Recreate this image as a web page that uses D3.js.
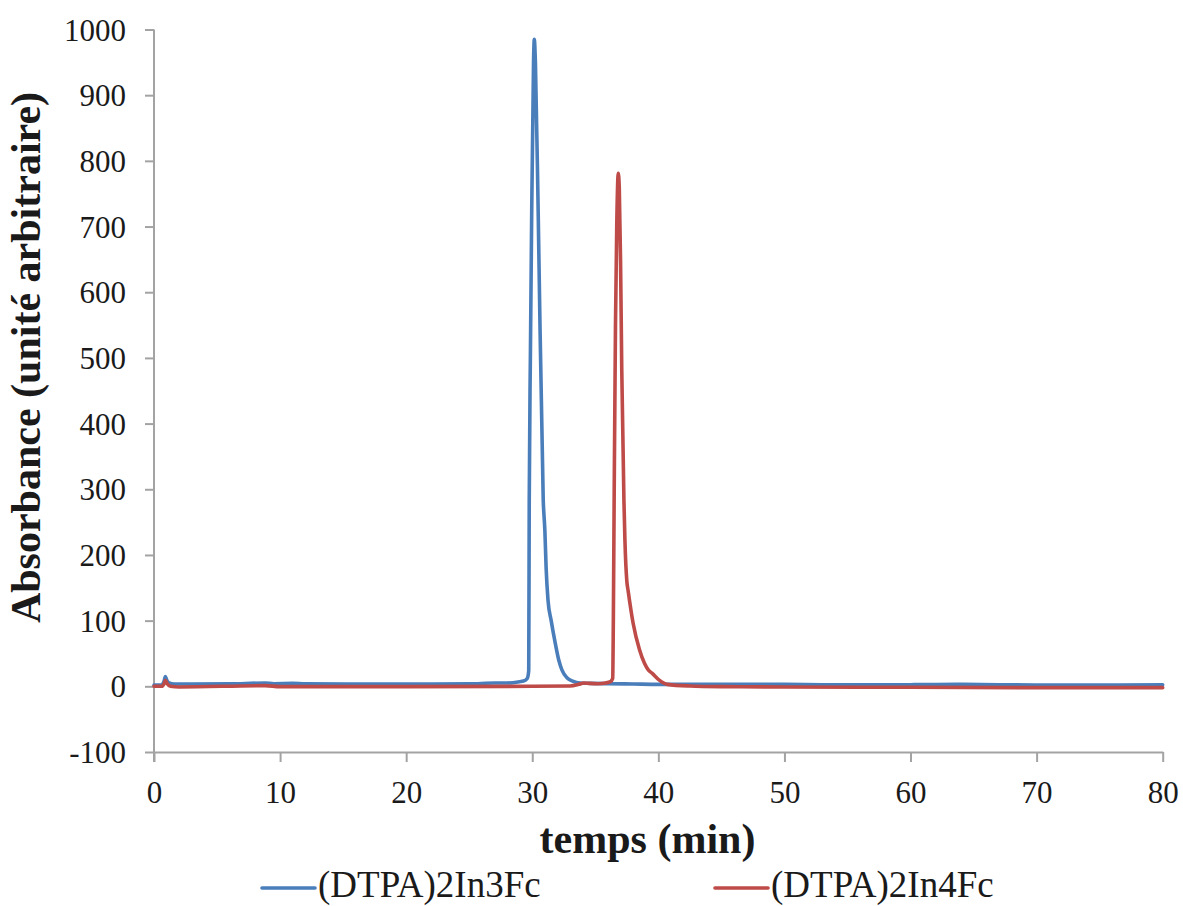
<!DOCTYPE html>
<html>
<head>
<meta charset="utf-8">
<script src="https://cdn.jsdelivr.net/npm/d3@7"></script>
<style>
  html, body { margin: 0; padding: 0; background: #fff; }
  svg { display: block; }
</style>
</head>
<body>
<svg id="chart" width="1183" height="906"></svg>
<script>
// ---- data ----
const seriesNames = ["(DTPA)2In3Fc", "(DTPA)2In4Fc"];
const seriesColors = ["#4a7ebb", "#be4b48"];

const blueTime = [0, 0.6, 0.8, 0.9, 1.0, 1.2, 1.6, 3, 6, 8.8, 9.5, 11, 12, 20, 25, 27, 28, 29, 29.3, 29.6, 29.72,
  29.76, 29.85, 29.95, 30.1, 30.16, 30.25, 30.48, 30.87, 31.0, 31.1, 31.25, 31.5, 31.8, 32.1, 32.35, 32.75,
  33.2, 33.8, 34.6, 36, 38, 40, 45, 50, 53, 60, 64, 70, 75, 80];
const blueValue = [2, 2, 8, 15, 10, 5, 3.5, 3.5, 3.8, 5, 4, 4.5, 3.8, 3.5, 3.8, 5, 5, 7, 8, 12, 24,
  283, 500, 710, 950, 985, 950, 710, 283, 237, 180, 131, 100, 68, 40, 25, 13,
  8, 5, 4.5, 4, 3.5, 3, 3, 3, 2.5, 2.5, 3, 2, 2, 2.5];

const redTime = [0, 0.6, 0.8, 0.9, 1.05, 1.3, 2, 8.8, 10, 20, 30, 33, 33.7, 34.1, 34.5, 35.2, 35.8, 36.2, 36.38,
  36.43, 36.5, 36.6, 36.7, 36.82, 36.9, 37.0, 37.1, 37.27, 37.35, 37.5, 37.6, 38.0, 38.5, 38.9, 39.2, 39.5,
  40.1, 40.7, 42.5, 45, 50, 60, 70, 80];
const redValue = [0, 0, 4, 9, 4, 0, -1, 1, -0.5, -0.5, 0, 0.5, 3, 5, 4.5, 4, 5, 7, 12,
  100, 300, 550, 700, 781, 760, 650, 480, 283, 222, 160, 146, 96, 56, 35, 25, 20,
  9, 3, 0.5, -0.5, -1, -1.5, -2, -2];

const xTicks = [0, 10, 20, 30, 40, 50, 60, 70, 80];
const yTicks = [-100, 0, 100, 200, 300, 400, 500, 600, 700, 800, 900, 1000];
const xTitle = "temps (min)";
const yTitle = "Absorbance (unité arbitraire)";

// ---- layout ----
const svg = d3.select("#chart");
const mLeft = 154, mRight = 1162.7, mTop = 29.5, mBottom = 752;
const x = d3.scaleLinear().domain([0, 80]).range([mLeft, mRight]);
const y = d3.scaleLinear().domain([-100, 1000]).range([mBottom, mTop]);
const axisColor = "#a3a3a3";
const font = "'Liberation Serif', 'Times New Roman', serif";
const fmt = d => String(d);

// axes
const yAxis = svg.append("g").attr("transform", `translate(${mLeft},0)`)
  .call(d3.axisLeft(y).tickValues(yTicks).tickSize(9).tickSizeOuter(0).tickFormat(fmt));
const xAxis = svg.append("g").attr("transform", `translate(0,${mBottom})`)
  .call(d3.axisBottom(x).tickValues(xTicks).tickSize(10).tickSizeOuter(0).tickFormat(fmt));
[xAxis, yAxis].forEach(g => {
  g.selectAll("path.domain").attr("stroke", axisColor).attr("stroke-width", 2);
  g.selectAll(".tick line").attr("stroke", axisColor).attr("stroke-width", 2);
  g.selectAll(".tick text").attr("fill", "#1a1a1a").style("font-family", font).style("font-size", "31px");
});
yAxis.selectAll(".tick text").attr("x", -28).attr("dy", "0.34em");
xAxis.selectAll(".tick text").attr("y", 51).attr("dy", 0);
// extend y axis line down to x tick length
yAxis.select("path.domain").attr("d", `M0,${mTop}V${mBottom + 10}`);

// lines
const line = d3.line().x(d => x(d[0])).y(d => y(d[1])).curve(d3.curveMonotoneX);
const series = [d3.zip(blueTime, blueValue), d3.zip(redTime, redValue)];
series.forEach((s, i) => {
  svg.append("path").datum(s)
    .attr("d", line)
    .attr("fill", "none")
    .attr("stroke", seriesColors[i])
    .attr("stroke-width", 3.6)
    .attr("stroke-linejoin", "round")
    .attr("stroke-linecap", "round");
});

// titles
svg.append("text")
  .attr("x", 647.5).attr("y", 853)
  .attr("text-anchor", "middle")
  .style("font-family", font).style("font-weight", "bold").style("font-size", "42px")
  .attr("fill", "#1a1a1a")
  .text(xTitle);
svg.append("text")
  .attr("transform", "translate(40,357.5) rotate(-90)")
  .attr("text-anchor", "middle")
  .style("font-family", font).style("font-weight", "bold").style("font-size", "42px")
  .attr("fill", "#1a1a1a")
  .text(yTitle);

// legend
const legendX = [262, 715];
seriesNames.forEach((name, i) => {
  const g = svg.append("g");
  g.append("line")
    .attr("x1", legendX[i]).attr("x2", legendX[i] + 53)
    .attr("y1", 888).attr("y2", 888)
    .attr("stroke", seriesColors[i]).attr("stroke-width", 3.6).attr("stroke-linecap", "round");
  g.append("text")
    .attr("x", legendX[i] + 56).attr("y", 897)
    .style("font-family", font).style("font-size", "37px")
    .attr("fill", "#1a1a1a")
    .text(name);
});
</script>
</body>
</html>
